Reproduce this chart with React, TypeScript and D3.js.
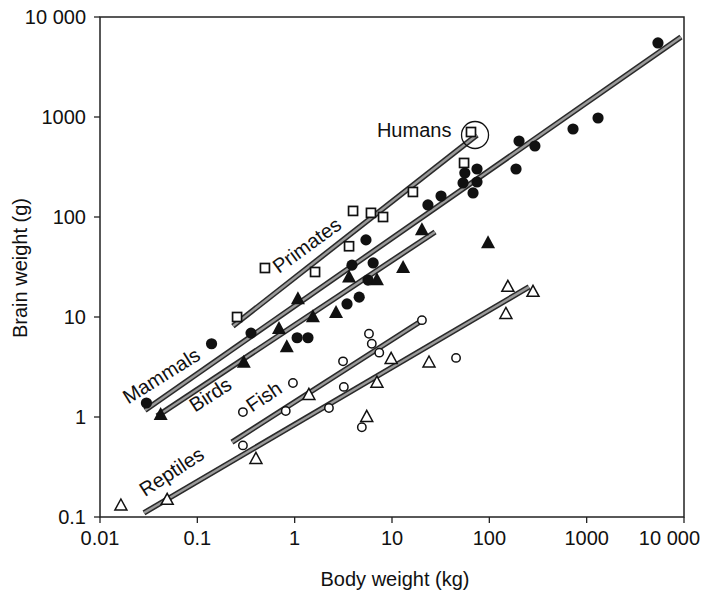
import React from 'react';
import * as d3 from 'd3';

// body weight (kg), brain weight (g)
const mammals: [number, number][] = [
  [0.03, 1.38], [0.14, 5.4], [0.356, 6.9], [1.06, 6.2], [1.37, 6.2], [3.45, 13.5],
  [4.6, 15.8], [3.88, 33], [6.4, 34.7], [5.67, 23.4], [5.4, 59], [23.4, 132],
  [31.9, 162], [56, 275], [74.7, 302], [53.7, 219], [74.7, 224], [68, 174],
  [188, 302], [202, 575], [294, 513], [724, 759], [1309, 977], [5400, 5500],
];
const primates: [number, number][] = [
  [0.256, 10], [0.495, 30.9], [1.62, 28.2], [3.62, 51], [3.98, 115], [6.08, 110],
  [8.09, 100], [16.4, 178], [55, 347], [64.8, 708],
];
const birds: [number, number][] = [
  [0.042, 1.05], [0.3, 3.5], [0.69, 7.6], [0.83, 5.0], [1.08, 15.1], [1.54, 10],
  [2.66, 11], [3.62, 25], [7.0, 23.4], [13, 31], [20.3, 74], [97, 55],
];
const fish: [number, number][] = [
  [0.294, 1.12], [0.294, 0.52], [0.81, 1.15], [0.96, 2.19], [2.25, 1.23], [3.2, 2.0],
  [4.9, 0.79], [3.14, 3.6], [5.8, 6.8], [6.2, 5.4], [7.4, 4.4], [20.3, 9.3], [45.5, 3.9],
];
const reptiles: [number, number][] = [
  [0.0164, 0.13], [0.049, 0.148], [0.4, 0.38], [1.4, 1.66], [5.5, 1.0], [7.0, 2.2],
  [9.8, 3.8], [24, 3.5], [155, 20], [281, 17.8], [148, 10.7],
];

// fitted lines (endpoints)
const fitLines: { name: string; pts: [number, number][] }[] = [
  { name: 'Mammals', pts: [[0.029, 1.17], [9310, 6300]] },
  { name: 'Primates', pts: [[0.232, 8.1], [74.7, 661]] },
  { name: 'Birds', pts: [[0.0386, 1.02], [27.7, 70.8]] },
  { name: 'Fish', pts: [[0.227, 0.56], [21.3, 9.5]] },
  { name: 'Reptiles', pts: [[0.0283, 0.11], [256, 20]] },
];

// group labels: anchor (kg, g) and rotation
const groupLabels = [
  { text: 'Mammals', at: [0.0195, 1.33], angle: -32 },
  { text: 'Birds', at: [0.0946, 1.1], angle: -33 },
  { text: 'Fish', at: [0.365, 1.1], angle: -34 },
  { text: 'Primates', at: [0.69, 26.9], angle: -36 },
  { text: 'Reptiles', at: [0.029, 0.158], angle: -33 },
  { text: 'Humans', at: [7.0, 631], angle: 0 },
];
const humans: [number, number] = [71.3, 661];

const xTicks = [0.01, 0.1, 1, 10, 100, 1000, 10000];
const yTicks = [0.1, 1, 10, 100, 1000, 10000];
const fmt = (v: number) => (v === 10000 ? '10 000' : String(v));

const W = 702;
const H = 594;
const FONT = '"Liberation Sans", Arial, sans-serif';

export default function App() {
  const x = d3.scaleLog().domain([0.01, 10000]).range([100, 684]);
  const y = d3.scaleLog().domain([0.1, 10000]).range([517, 17]);
  const line = d3.line<[number, number]>().x(d => x(d[0])).y(d => y(d[1]));
  const ink = '#111';

  const tri = (cx: number, cy: number, hw: number, h: number) =>
    `M${cx},${cy - h * 0.6}L${cx + hw},${cy + h * 0.4}L${cx - hw},${cy + h * 0.4}Z`;

  return (
    <svg width={W} height={H} style={{ position: 'absolute', left: 0, top: 0, background: '#fff' }}
      fontFamily={FONT}>
      {/* frame */}
      <rect x={100} y={17} width={584} height={500} fill="none" stroke="#222" strokeWidth={1.5} />
      {xTicks.map((t, i) => {
        const last = i === xTicks.length - 1;
        return (
          <g key={'x' + t}>
            <line x1={x(t)} x2={x(t)} y1={517} y2={523} stroke="#222" strokeWidth={1.3} />
            <text x={last ? 700 : x(t)} y={545} textAnchor={last ? 'end' : 'middle'}
              fontSize={20} fill={ink}>{fmt(t)}</text>
          </g>
        );
      })}
      {yTicks.map(t => (
        <g key={'y' + t}>
          <line x1={94} x2={100} y1={y(t)} y2={y(t)} stroke="#222" strokeWidth={1.3} />
          <text x={86} y={y(t) + 7} textAnchor="end" fontSize={20} fill={ink}>{fmt(t)}</text>
        </g>
      ))}
      <text x={395} y={586} textAnchor="middle" fontSize={20} fill={ink}>Body weight (kg)</text>
      <text transform={`translate(27,268) rotate(-90)`} textAnchor="middle" fontSize={20} fill={ink}>
        Brain weight (g)
      </text>

      {/* regression lines */}
      {fitLines.map(l => (
        <g key={l.name}>
          <path d={line(l.pts) || ''} stroke="#2a2a2a" strokeWidth={5.5} fill="none" />
          <path d={line(l.pts) || ''} stroke="#9a9a9a" strokeWidth={2.4} fill="none" />
        </g>
      ))}

      {/* points */}
      {mammals.map((d, i) => (
        <circle key={'m' + i} cx={x(d[0])} cy={y(d[1])} r={5.6} fill={ink} />
      ))}
      {primates.map((d, i) => (
        <rect key={'p' + i} x={x(d[0]) - 4.5} y={y(d[1]) - 4.5} width={9} height={9}
          fill="#fff" stroke={ink} strokeWidth={1.7} />
      ))}
      {birds.map((d, i) => (
        <path key={'b' + i} d={tri(x(d[0]), y(d[1]), 7, 13)} fill={ink} />
      ))}
      {fish.map((d, i) => (
        <circle key={'f' + i} cx={x(d[0])} cy={y(d[1])} r={4.2} fill="#fff" stroke={ink} strokeWidth={1.5} />
      ))}
      {reptiles.map((d, i) => (
        <path key={'r' + i} d={tri(x(d[0]), y(d[1]), 6, 11)} fill="#fff" stroke={ink} strokeWidth={1.5} />
      ))}

      {/* humans highlight */}
      <circle cx={x(humans[0])} cy={y(humans[1])} r={13.5} fill="none" stroke={ink} strokeWidth={1.3} />

      {groupLabels.map(l => (
        <text key={l.text} transform={`translate(${x(l.at[0])},${y(l.at[1])}) rotate(${l.angle})`}
          fontSize={20} fill={ink}>{l.text}</text>
      ))}
    </svg>
  );
}
